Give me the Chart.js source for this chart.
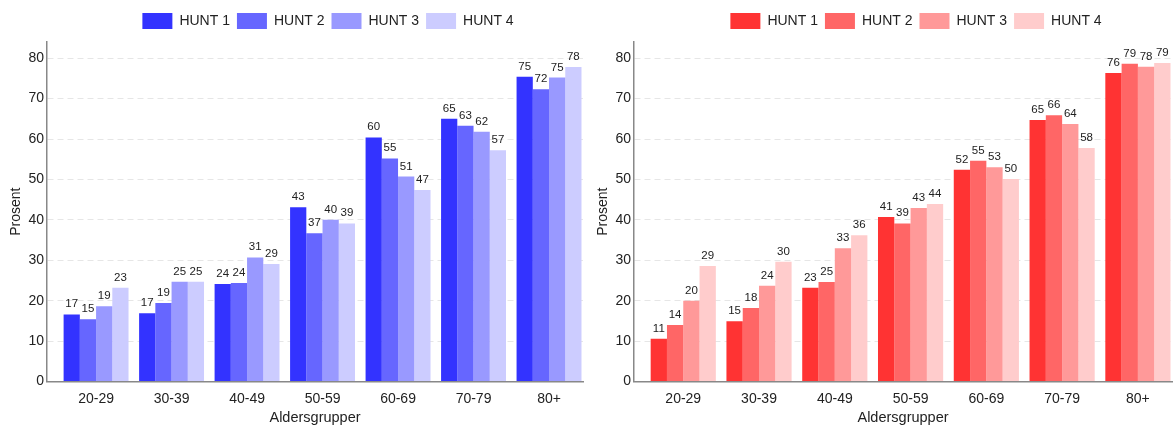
<!DOCTYPE html>
<html>
<head>
<meta charset="utf-8">
<script src="https://cdn.jsdelivr.net/npm/chart.js@4/dist/chart.umd.min.js"></script>
<style>
  html, body { margin: 0; padding: 0; background: #fff; }
  .wrap { position: relative; width: 1173px; height: 427px; overflow: hidden; }
  canvas { position: absolute; top: 0; }
  #left { left: 0; }
  #right { left: 587px; }
</style>
</head>
<body>
<div class="wrap">
  <canvas id="left" width="586" height="427"></canvas>
  <canvas id="right" width="586" height="427"></canvas>
</div>
<script>
const ageGroups = ["20-29", "30-39", "40-49", "50-59", "60-69", "70-79", "80+"];
const surveyNames = ["HUNT 1", "HUNT 2", "HUNT 3", "HUNT 4"];
const yTicks = [0, 10, 20, 30, 40, 50, 60, 70, 80];

// left panel (blue)
const blueHunt1 = [16.6, 16.9, 24.1, 43.1, 60.4, 65.0, 75.4];
const blueHunt2 = [15.4, 19.4, 24.4, 36.7, 55.2, 63.3, 72.3];
const blueHunt3 = [18.6, 24.7, 30.7, 40.0, 50.7, 61.8, 75.2];
const blueHunt4 = [23.2, 24.7, 29.1, 39.1, 47.4, 57.2, 77.8];

// right panel (red)
const redHunt1 = [10.6, 14.9, 23.2, 40.7, 52.4, 64.7, 76.3];
const redHunt2 = [14.0, 18.2, 24.6, 39.1, 54.6, 65.9, 78.6];
const redHunt3 = [20.0, 23.7, 33.0, 42.9, 53.0, 63.7, 77.9];
const redHunt4 = [28.6, 29.6, 36.2, 43.9, 50.1, 57.8, 78.8];

const blueColors = ["#3333ff", "#6666ff", "#9999ff", "#ccccff"];
const redColors = ["#ff3333", "#ff6666", "#ff9999", "#ffcccc"];

Chart.defaults.font.family = "'Liberation Sans', Arial, sans-serif";
Chart.defaults.color = "#222";

// numbers on top of the bars
const valueLabels = {
  id: "valueLabels",
  afterDatasetsDraw(chart) {
    const ctx = chart.ctx;
    ctx.save();
    ctx.font = "11.5px 'Liberation Sans', Arial, sans-serif";
    ctx.fillStyle = "#222";
    ctx.textAlign = "center";
    ctx.textBaseline = "alphabetic";
    chart.data.datasets.forEach((ds, i) => {
      chart.getDatasetMeta(i).data.forEach((bar, j) => {
        ctx.fillText(Math.round(ds.data[j].y), bar.x, bar.y - 7);
      });
    });
    ctx.restore();
  },
};

// legend sits a bit right of the plot centre in the original
const nudgeLegend = {
  id: "nudgeLegend",
  afterLayout(chart) {
    const lg = chart.legend;
    lg.left += 13;
    lg.right += 13;
    lg.top -= 3;
    lg.bottom -= 3;
  },
};

const makeDatasets = (series, colors) =>
  series.map((values, i) => ({
    label: surveyNames[i],
    data: values.map((v, j) => ({ x: j, y: v })),
    backgroundColor: colors[i],
    borderWidth: 0,
    categoryPercentage: 0.86,
    barPercentage: 1,
  }));

const makeChart = (canvasId, datasets, padRight) => {
  return new Chart(document.getElementById(canvasId), {
    type: "bar",
    data: { datasets: datasets },
    plugins: [valueLabels, nudgeLegend],
    options: {
      responsive: false,
      animation: false,
      devicePixelRatio: 1,
      layout: { padding: { top: 9, right: padRight, left: 0, bottom: 0 } },
      plugins: {
        tooltip: { enabled: false },
        legend: {
          position: "top",
          fullSize: false,
          labels: {
            boxWidth: 30,
            boxHeight: 16,
            padding: 7,
            color: "#222",
            font: { size: 14 },
          },
        },
      },
      scales: {
        x: {
          type: "linear",
          offset: false,
          min: -0.65,
          max: 6.45,
          afterBuildTicks: (scale) => {
            scale.ticks = ageGroups.map((g, i) => ({ value: i }));
          },
          ticks: {
            callback: (v) => ageGroups[v],
            padding: 9,
            autoSkip: false,
            maxRotation: 0,
            color: "#222",
            font: { size: 14 },
          },
          grid: { display: false, drawTicks: false },
          border: { color: "#888", width: 1.5 },
          title: {
            display: true,
            text: "Aldersgrupper",
            color: "#222",
            font: { size: 14.5 },
            padding: 0,
          },
          afterFit: (scale) => {
            scale.height = 45.5;
          },
        },
        y: {
          min: 0,
          max: 84,
          afterBuildTicks: (scale) => {
            scale.ticks = yTicks.map((v) => ({ value: v }));
          },
          ticks: { padding: 3, color: "#222", font: { size: 14 } },
          grid: {
            drawTicks: false,
            lineWidth: 1,
            color: (c) => (c.tick && c.tick.value === 0 ? "rgba(0,0,0,0)" : "#e6e6e6"),
          },
          border: { color: "#888", width: 1.5, dash: [6, 4] },
          title: {
            display: true,
            text: "Prosent",
            color: "#222",
            font: { size: 14 },
            padding: { top: 8, bottom: 0 },
          },
          afterFit: (scale) => {
            scale.width = 47;
          },
        },
      },
    },
  });
};

makeChart("left", makeDatasets([blueHunt1, blueHunt2, blueHunt3, blueHunt4], blueColors), 3);
makeChart("right", makeDatasets([redHunt1, redHunt2, redHunt3, redHunt4], redColors), 1);
</script>
</body>
</html>
